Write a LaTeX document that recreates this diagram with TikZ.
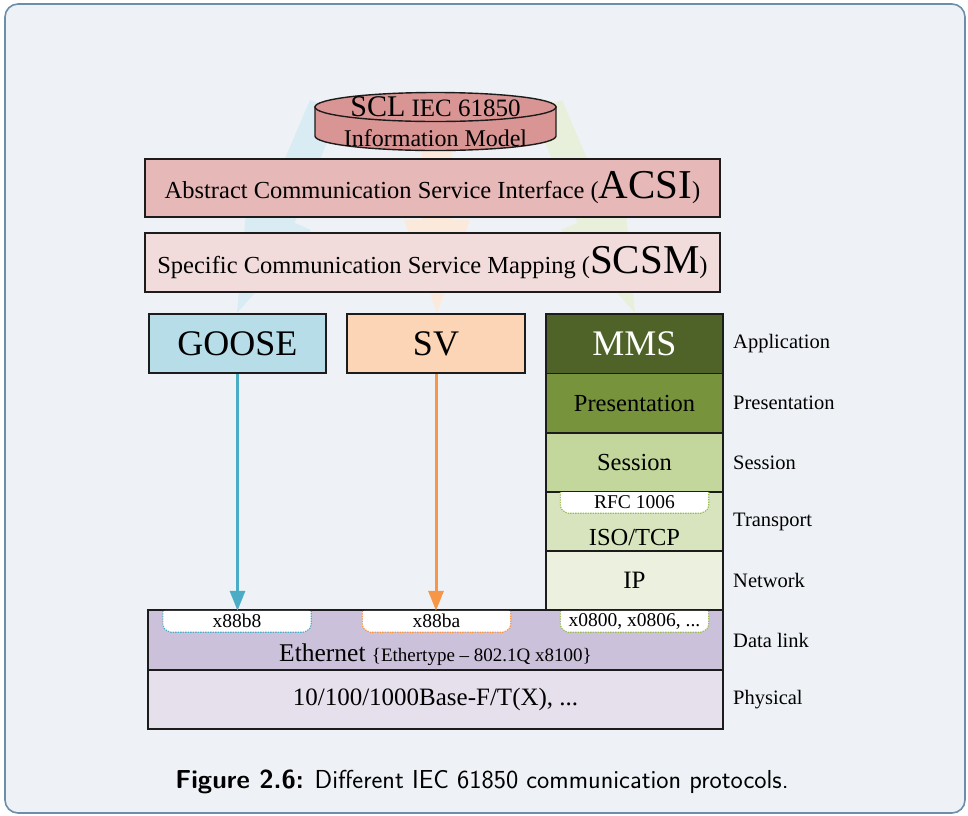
\documentclass[tikz,border=0pt]{standalone}
\usepackage{fontspec}
\setmainfont{Liberation Serif}
\usetikzlibrary{arrows.meta}

\definecolor{framebg}{HTML}{EEF2F6}
\definecolor{frameline}{HTML}{6C8EAB}
\definecolor{cylfill}{HTML}{D99594}
\definecolor{acsifill}{HTML}{E6B9B8}
\definecolor{scsmfill}{HTML}{F2DCDB}
\definecolor{goosefill}{HTML}{B7DEE8}
\definecolor{svfill}{HTML}{FBD5B5}
\definecolor{mmsfill}{HTML}{4F6228}
\definecolor{presfill}{HTML}{77933C}
\definecolor{sessfill}{HTML}{C3D69B}
\definecolor{tranfill}{HTML}{D7E4BD}
\definecolor{ipfill}{HTML}{EBF1DE}
\definecolor{ethfill}{HTML}{CCC1DA}
\definecolor{physfill}{HTML}{E5E0EC}
\definecolor{gooseline}{HTML}{4BACC6}
\definecolor{svline}{HTML}{F79646}
\definecolor{mmsline}{HTML}{9BBB59}
\definecolor{fadeblue}{HTML}{D9ECF3}
\definecolor{fadeorange}{HTML}{FBEADB}
\definecolor{fadegreen}{HTML}{E8F0DC}
\definecolor{inkline}{HTML}{1C1C1C}

\newcommand\fs[1]{\fontsize{#1}{#1}\selectfont}

% white tab with chamfered lower corners and a dotted outline
\newcommand\ethtab[5]{%
  \node[tabshape] (#1) at (#2,#3) {};
  \fill[white,rounded corners=2pt] (#1.north west) -- ([yshift=5pt]#1.south west)
    -- ([xshift=6pt]#1.south west) -- ([xshift=-6pt]#1.south east)
    -- ([yshift=5pt]#1.south east) -- (#1.north east) -- cycle;
  \draw[tabline,#4,rounded corners=2pt] (#1.north west) -- ([yshift=5pt]#1.south west)
    -- ([xshift=6pt]#1.south west) -- ([xshift=-6pt]#1.south east)
    -- ([yshift=5pt]#1.south east) -- (#1.north east);
  \node[font=\fs{19.5}] (#1-t) at ([yshift=0.5pt]#1.center) {#5};
}

\begin{document}
\begin{tikzpicture}[x=1pt,y=-1pt,
  layerbox/.style={draw=inkline,line width=1.4pt,inner sep=0pt,align=center},
  tabshape/.style={minimum width=148pt,minimum height=21pt,inner sep=0pt},
  tabline/.style={line width=1.1pt,dash pattern=on 1.4pt off 1.1pt},
  osilabel/.style={anchor=west,font=\fs{20.5},inner sep=0pt},
  flowarrow/.style={line width=3pt,-{Triangle[length=20pt,width=15pt]}}
]
\useasboundingbox (0,0) rectangle (968,815);

% frame
\filldraw[fill=framebg,draw=frameline,line width=1.6pt,rounded corners=13pt]
  (5,4) rectangle (965,813);

% faint broad arrows in the background
\fill[fadeblue] (237,313) -- (311,230) -- (294.6,222.8) -- (340,110)
  -- (310,100) -- (263.4,209.2) -- (247,202) -- cycle;
\fill[fadeorange] (437,313) -- (470,220) -- (452,220) -- (452,140)
  -- (422,140) -- (422,220) -- (404,220) -- cycle;
\fill[fadegreen] (635,313) -- (561,230) -- (577.4,222.8) -- (532,110)
  -- (562,100) -- (608.6,209.2) -- (625,202) -- cycle;

% information model database
\filldraw[fill=cylfill,draw=inkline,line width=1.4pt]
  (315,107) -- (315,136) arc[start angle=180,end angle=0,x radius=120.5,y radius=14.5]
  -- (556,107) -- cycle;
\filldraw[fill=cylfill,draw=inkline,line width=1.4pt]
  (435.5,107) ellipse[x radius=120.5,y radius=14.5];
\node[anchor=base,inner sep=0pt] (cyltop) at (435.5,116)
  {{\fs{30}SCL}{\fs{25}\ IEC 61850}};
\node[anchor=base,inner sep=0pt,font=\fs{24}] (cylbot) at (435.5,146) {Information Model};

% service layers
\node[layerbox,fill=acsifill,minimum width=575pt,minimum height=58pt] (acsi) at (432.5,188)
  {\fs{24.5}Abstract Communication Service Interface ({\fs{41}ACSI})};
\node[layerbox,fill=scsmfill,minimum width=575pt,minimum height=59pt] (scsm) at (432.5,262.5)
  {\fs{24.5}Specific Communication Service Mapping ({\fs{41}SCSM})};

% protocols
\node[layerbox,fill=goosefill,minimum width=177pt,minimum height=59pt,font=\fs{36}] (goose) at (237.5,343.5) {GOOSE};
\node[layerbox,fill=svfill,minimum width=178pt,minimum height=59pt,font=\fs{36}] (sv) at (436,343.5) {SV};

% MMS stack
\node[layerbox,fill=mmsfill,text=white,minimum width=177pt,minimum height=59.5pt,font=\fs{36}] (mms) at (634.5,343.75) {MMS};
\node[layerbox,fill=presfill,minimum width=177pt,minimum height=59.5pt,font=\fs{24.5}] (pres) at (634.5,403.25) {Presentation};
\node[layerbox,fill=sessfill,minimum width=177pt,minimum height=59pt,font=\fs{24.5}] (sess) at (634.5,462.5) {Session};
\node[layerbox,fill=tranfill,minimum width=177pt,minimum height=59pt] (tran) at (634.5,521.5) {};
\node[layerbox,fill=ipfill,minimum width=177pt,minimum height=59pt,font=\fs{25}] (ip) at (634.5,580.5) {IP};

% link and physical layers
\node[layerbox,fill=ethfill,minimum width=575pt,minimum height=60pt] (eth) at (435.5,640) {};
\node[layerbox,fill=physfill,minimum width=575pt,minimum height=59pt,font=\fs{25}] (phys) at (435.5,699.5) {10/100/1000Base-F/T(X), ...};

% tabs
\ethtab{rfc}{634.5}{502.5}{draw=mmsline}{RFC 1006}
\ethtab{tgoose}{237}{621.5}{draw=gooseline}{x88b8}
\ethtab{tsv}{436.5}{621.5}{draw=svline}{x88ba}
\ethtab{tip}{634.5}{621.5}{draw=mmsline}{x0800, x0806, ...}

\draw[draw=inkline,line width=1.4pt] (tran.north west) -- (tran.north east);
\draw[draw=inkline,line width=1.4pt] (eth.north west) -- (eth.north east);

\node[font=\fs{24.5},inner sep=0pt] (isotcp) at (634.5,537) {ISO/TCP};
\node[inner sep=0pt] (ethtxt) at (435.5,655)
  {{\fs{25.5}Ethernet\ }{\fs{19}\{Ethertype – 802.1Q x8100\}}};

% arrows down to the Ethernet types
\draw[flowarrow,gooseline] (goose.south) -- (goose.south |- tgoose.north);
\draw[flowarrow,svline] (sv.south) -- (sv.south |- tsv.north);

% OSI layer names
\node[osilabel] (lapp) at (733,343.75) {Application};
\node[osilabel] (lpres) at (733,403.25) {Presentation};
\node[osilabel] (lsess) at (733,462.5) {Session};
\node[osilabel] (ltran) at (733,521.5) {Transport};
\node[osilabel] (lnet) at (733,580.5) {Network};
\node[osilabel] (llink) at (733,640) {Data link};
\node[osilabel] (lphys) at (733,699.5) {Physical};

% caption
\node[font=\sffamily\fs{26}] (caption) at (482,782)
  {\textbf{Figure 2.6:} Different IEC 61850 communication protocols.};
\end{tikzpicture}
\end{document}
